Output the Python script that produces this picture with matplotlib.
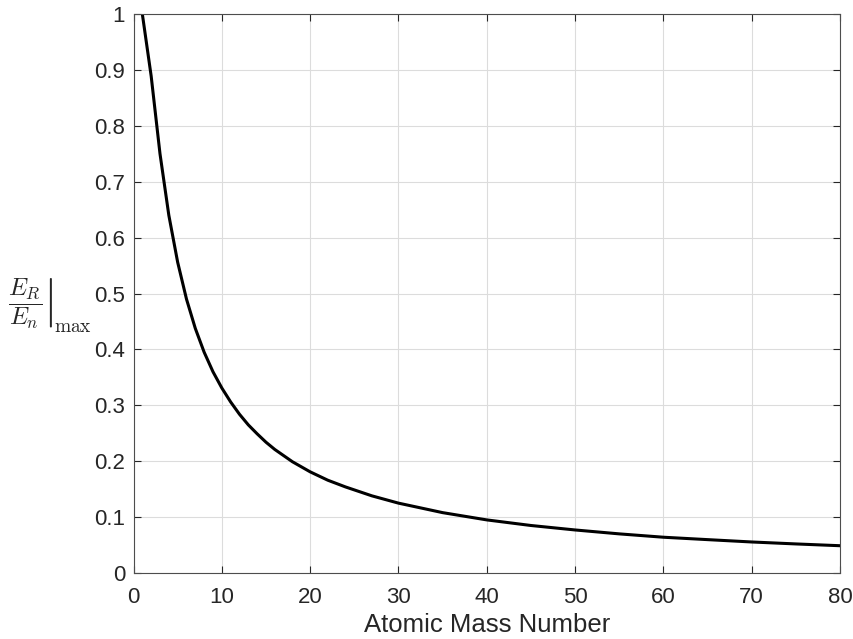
import matplotlib.pyplot as plt
import numpy as np

mass_number = [1, 2, 3, 4, 5, 6, 7, 8, 9, 10, 11, 12, 13, 14, 15, 16, 17, 18, 19,
               20, 22, 24, 27, 30, 35, 40, 45, 50, 55, 60, 65, 70, 75, 80]
energy_ratio = [1.0, 0.889, 0.75, 0.64, 0.556, 0.49, 0.4375, 0.395, 0.36,
                0.331, 0.306, 0.284, 0.265, 0.249, 0.234, 0.221, 0.21, 0.199,
                0.19, 0.181, 0.166, 0.154, 0.138, 0.125, 0.108, 0.095, 0.085,
                0.077, 0.070, 0.064, 0.0597, 0.0555, 0.052, 0.0488]

plt.rcParams["font.family"] = ["Liberation Sans", "DejaVu Sans"]
plt.rcParams["mathtext.fontset"] = "cm"

fig = plt.figure(figsize=(8.54, 6.39), dpi=100)
ax = fig.add_axes([133.5 / 854, 1 - 573 / 639, (840 - 133.5) / 854, (573 - 14) / 639])

ax.plot(mass_number, energy_ratio, color="black", linewidth=2.2)

ax.set_xlim(0, 80)
ax.set_ylim(0, 1)
ax.set_xticks(np.arange(0, 81, 10))
ax.set_yticks(np.arange(0, 1.01, 0.1))
ax.set_yticklabels(["0", "0.1", "0.2", "0.3", "0.4", "0.5", "0.6", "0.7", "0.8", "0.9", "1"])
ax.grid(True, color="#dcdcdc", linewidth=0.8)
ax.tick_params(direction="in", top=True, right=True, length=5, width=0.8,
               labelsize=16, colors="#262626", pad=6)
ax.tick_params(axis="x", pad=10)
for s in ax.spines.values():
    s.set_color("#4d4d4d")
    s.set_linewidth(0.8)

ax.set_xlabel("Atomic Mass Number", fontsize=18.5, color="#262626", labelpad=4)
# y label: fraction with evaluation bar, subscript placed at the foot of the bar
fig.text(8 / 854, 1 - 304 / 639, r"$\left.\dfrac{E_R}{E_n}\right|$",
         fontsize=17.5, color="#262626", ha="left", va="center")
fig.text(54 / 854, 1 - 328 / 639, r"$\mathrm{max}$",
         fontsize=14, color="#262626", ha="left", va="center")

plt.savefig("out.png", dpi=100)
